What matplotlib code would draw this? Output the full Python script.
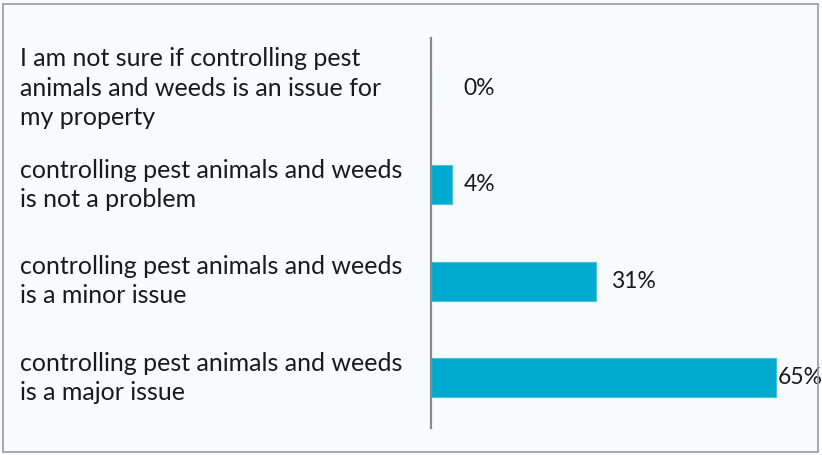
import matplotlib.pyplot as plt
from matplotlib.patches import Rectangle

categories = [
    "controlling pest animals and weeds\nis a major issue",
    "controlling pest animals and weeds\nis a minor issue",
    "controlling pest animals and weeds\nis not a problem",
    "I am not sure if controlling pest\nanimals and weeds is an issue for\nmy property",
]
values = [65, 31, 4, 0]
labels = ["65%", "31%", "4%", "0%"]
label_offsets = [1, 15, 11, 32]  # px gap between bar end and label

plt.rcParams['font.family'] = ['Lato', 'DejaVu Sans']
bg = '#f8fcff'

fig = plt.figure(figsize=(8.22, 4.55), dpi=100, facecolor=bg)
fig.patches.append(Rectangle((3 / 822, 3 / 455), 815 / 822, 448 / 455, transform=fig.transFigure,
                             fill=False, edgecolor='#9a9a9a', linewidth=1.2))

ax = fig.add_axes([431 / 822, 27 / 455, 372 / 822, 390 / 455])
ax.set_facecolor(bg)
pos = list(range(len(values)))
ax.barh(pos, values, height=0.4, color='#00aacf', edgecolor='#45c3e3', linewidth=0.8)
ax.set_xlim(0, 70)
ax.set_ylim(-0.52, 3.52)

for y, v, lab, off in zip(pos, values, labels, label_offsets):
    ax.annotate(lab, (v, y), xytext=(off * 0.72, 0), textcoords='offset points',
                va='center', ha='left', fontsize=16.5, color='#1a1a1a')
    ax.annotate(categories[y], (0, y), xycoords=('figure fraction', 'data'),
                xytext=(20 * 0.72, 0), textcoords='offset points',
                va='center', ha='left', fontsize=18, color='#1a1a1a', linespacing=1.34)

for s in ['top', 'right', 'bottom']:
    ax.spines[s].set_visible(False)
ax.spines['left'].set_color('#8a8a8a')
ax.spines['left'].set_linewidth(1.6)
ax.set_xticks([])
ax.set_yticks([])

fig.savefig('out.png', dpi=100, facecolor=bg)
